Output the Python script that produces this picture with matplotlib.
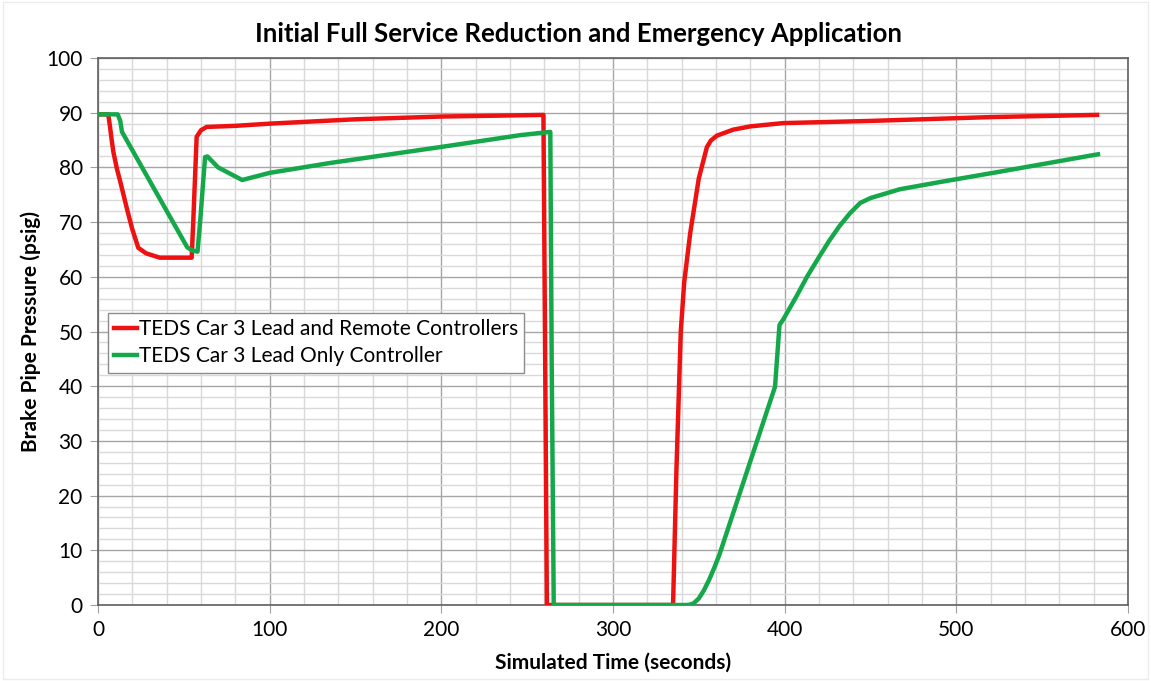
import numpy as np
import matplotlib
matplotlib.use('Agg')
import matplotlib.pyplot as plt
from matplotlib.ticker import MultipleLocator

plt.rcParams['font.family'] = ['Lato', 'DejaVu Sans']

# lead + remote controllers (red)
red_t = [0, 6, 7, 8, 9, 11, 13, 17, 20, 23.5, 28, 36, 54.6, 55.5, 57.5, 60, 63.3, 80, 100, 150, 200,
         259.5, 260.5, 261.5, 300, 335, 337, 339.5, 341.5, 345, 350, 354.7, 357, 360.5, 370, 380,
         399, 450, 520, 582]
red_p = [89.7, 89.7, 87.5, 85, 82.8, 79.8, 77.4, 72.3, 68.7, 65.3, 64.3, 63.5, 63.5, 70, 85.6, 86.8,
         87.4, 87.6, 88.0, 88.8, 89.3, 89.6, 45, 0, 0, 0, 25, 50, 59, 68, 78, 83.7, 84.9, 85.8,
         86.9, 87.5, 88.1, 88.5, 89.2, 89.6]

# lead only controller (green)
green_t = [0, 11.5, 13, 14, 52, 55, 58, 59.5, 62.4, 63.8, 70, 84, 100, 135, 199, 246, 263.5,
           264.3, 265.5, 300, 344, 347, 350, 353, 356, 359, 362, 394.4, 397, 399, 407, 413, 420,
           426, 432, 438, 444, 450, 467, 490, 525, 582.5]
green_p = [89.7, 89.7, 88.5, 86.5, 65.4, 64.8, 64.6, 70, 81.9, 82, 80, 77.7, 79, 80.8, 83.7,
           85.9, 86.5, 45, 0, 0, 0, 0.3, 1.2, 2.7, 4.6, 6.8, 9.2, 39.9, 51.2, 52.1, 56.5, 60, 63.6,
           66.6, 69.3, 71.6, 73.5, 74.4, 76, 77.3, 79.2, 82.4]

fig = plt.figure(figsize=(11.51, 6.81), dpi=100)
ax = fig.add_axes([0.0851, 0.1116, 0.8949, 0.8032])

ax.plot(red_t, red_p, color='#EE1111', lw=3.2, label='TEDS Car 3 Lead and Remote Controllers',
        solid_joinstyle='round', zorder=3)
ax.plot(green_t, green_p, color='#14A84B', lw=3.2, label='TEDS Car 3 Lead Only Controller',
        solid_joinstyle='round', zorder=3)

ax.set_xlim(0, 600)
ax.set_ylim(0, 100)
ax.xaxis.set_major_locator(MultipleLocator(100))
ax.xaxis.set_minor_locator(MultipleLocator(20))
ax.yaxis.set_major_locator(MultipleLocator(10))
ax.yaxis.set_minor_locator(MultipleLocator(2))
ax.grid(which='major', color='#a6a6a6', lw=1.0)
ax.grid(which='minor', color='#d9d9d9', lw=1.0)
ax.set_axisbelow(True)
ax.tick_params(which='major', direction='out', length=6, color='#a0a0a0', labelsize=15, pad=5)
ax.tick_params(which='minor', length=0)
for s in ax.spines.values():
    s.set_color('#606060')
    s.set_linewidth(1.2)

fig.suptitle('Initial Full Service Reduction and Emergency Application', x=0.503, y=0.968,
             fontsize=18.5, fontweight='bold')
ax.set_xlabel('Simulated Time (seconds)', fontsize=15, fontweight='bold', labelpad=9)
ax.set_ylabel('Brake Pipe Pressure (psig)', fontsize=15, fontweight='bold', labelpad=4)

leg = ax.legend(loc='lower left', bbox_to_anchor=(0.0095, 0.425), fontsize=15, handlelength=1.1,
                handletextpad=0.1, borderpad=0.3, labelspacing=0.35, fancybox=False,
                framealpha=1, borderaxespad=0)
leg.get_frame().set_edgecolor('#8c8c8c')
leg.get_frame().set_linewidth(1.0)

fig.patches.append(plt.Rectangle((0.003, 0.003), 0.994, 0.994, transform=fig.transFigure,
                                 fill=False, edgecolor='#ececec', lw=1))

fig.savefig('out.png', dpi=100)
